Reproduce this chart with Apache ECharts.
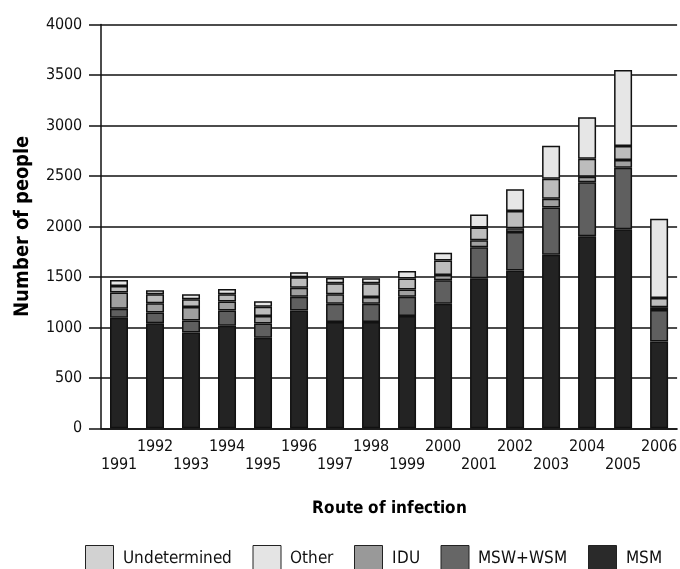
<!DOCTYPE html>
<html>
<head>
<meta charset="utf-8">
<script src="https://cdn.jsdelivr.net/npm/echarts@6/dist/echarts.min.js"></script>
<style>
@font-face { font-family: 'CondX'; font-weight: normal;
  src: local('Liberation Sans Narrow'), local('LiberationSansNarrow-Regular'), local('DejaVu Sans Condensed'), local('DejaVuSansCondensed'); }
@font-face { font-family: 'CondX'; font-weight: bold;
  src: local('Liberation Sans Narrow Bold'), local('LiberationSansNarrow-Bold'), local('DejaVu Sans Condensed Bold'), local('DejaVuSansCondensed-Bold'); }
html,body{margin:0;padding:0;background:#fff;}
#chart{width:680px;height:569px;}
</style>
</head>
<body>
<div id="chart"></div>
<script>
var years = ['1991','1992','1993','1994','1995','1996','1997','1998','1999','2000','2001','2002','2003','2004','2005','2006'];
var msm = [1096,1040,948,1017,898,1166,1053,1053,1113,1235,1486,1562,1720,1902,1971,859];
var mswWsm = [89,106,119,149,139,138,182,182,191,231,307,383,466,535,611,312];
var idu = [159,92,135,89,76,89,92,66,70,53,69,36,89,56,76,29];
var undetermined = [66,89,76,72,92,103,109,135,109,142,126,172,198,178,139,90];
var other = [59,40,49,53,53,49,53,50,75,79,129,215,327,410,753,787];
var yTicks = [0,500,1000,1500,2000,2500,3000,3500,4000];

var FONT = 'CondX, "Liberation Sans Narrow", "DejaVu Sans Condensed", Roboto, sans-serif';

function mk(name, data, color) {
  return {
    name: name, type: 'bar', stack: 'total', data: data,
    barWidth: 18,
    itemStyle: {color: color, borderColor: '#111', borderWidth: 1.5},
    emphasis: {disabled: true}
  };
}

function draw() {
  var chart = echarts.init(document.getElementById('chart'), null, {renderer:'canvas'});
  chart.setOption({
    animation: false,
    backgroundColor: '#fff',
    textStyle: {fontFamily: FONT},
    grid: {left: 101, right: 0, top: 24.5, bottom: 140.7},
    legend: {
      top: 540, left: 80, width: 600,
      itemWidth: 28, itemHeight: 26, itemGap: 21,
      icon: 'rect',
      textStyle: {fontFamily: FONT, fontSize: 17, color: '#111', padding: [0,0,0,4]},
      data: [
        {name:'Undetermined', itemStyle:{color:'#d2d2d2', borderColor:'#222', borderWidth:1}},
        {name:'Other', itemStyle:{color:'#e4e4e4', borderColor:'#222', borderWidth:1}},
        {name:'IDU', itemStyle:{color:'#999999', borderColor:'#222', borderWidth:1}},
        {name:'MSW+WSM', itemStyle:{color:'#666666', borderColor:'#222', borderWidth:1}},
        {name:'MSM', itemStyle:{color:'#2a2a2a', borderColor:'#222', borderWidth:1}}
      ]
    },
    xAxis: {
      type: 'category', data: years,
      name: 'Route of infection', nameLocation: 'middle', nameGap: 72,
      nameTextStyle: {fontFamily: FONT, fontSize: 17, fontWeight: 'bold', color: '#000'},
      axisLine: {lineStyle: {color: '#111', width: 1.5}},
      axisTick: {alignWithLabel: true, length: 8, lineStyle: {color: '#111', width: 1.5}},
      axisLabel: {
        interval: 0, margin: 10, fontSize: 16, lineHeight: 18, color: '#111', fontFamily: FONT,
        formatter: function (v, i) { return i % 2 === 0 ? '\n' + v : v; }
      }
    },
    yAxis: {
      type: 'value', min: 0, max: 4000, interval: 500,
      name: 'Number of people', nameLocation: 'middle', nameGap: 68, nameRotate: 90,
      nameTextStyle: {fontFamily: FONT, fontSize: 20, fontWeight: 'bold', color: '#000'},
      axisLine: {show: true, lineStyle: {color: '#111', width: 1.5}},
      axisTick: {show: true, length: 12, lineStyle: {color: '#111', width: 1.5}},
      axisLabel: {margin: 19, fontSize: 16, color: '#111', fontFamily: FONT,
        formatter: function (v) { return yTicks.indexOf(v) >= 0 ? String(v) : ''; }},
      splitLine: {show: true, lineStyle: {color: '#111', width: 1.5}}
    },
    series: [
      mk('MSM', msm, '#232323'),
      mk('MSW+WSM', mswWsm, '#5f5f5f'),
      mk('IDU', idu, '#a0a0a0'),
      mk('Undetermined', undetermined, '#bcbcbc'),
      mk('Other', other, '#e6e6e6')
    ]
  });
}

if (document.fonts && document.fonts.load) {
  Promise.all([document.fonts.load('16px CondX'), document.fonts.load('bold 17px CondX')])
    .then(draw, draw);
} else { draw(); }
</script>
</body>
</html>
